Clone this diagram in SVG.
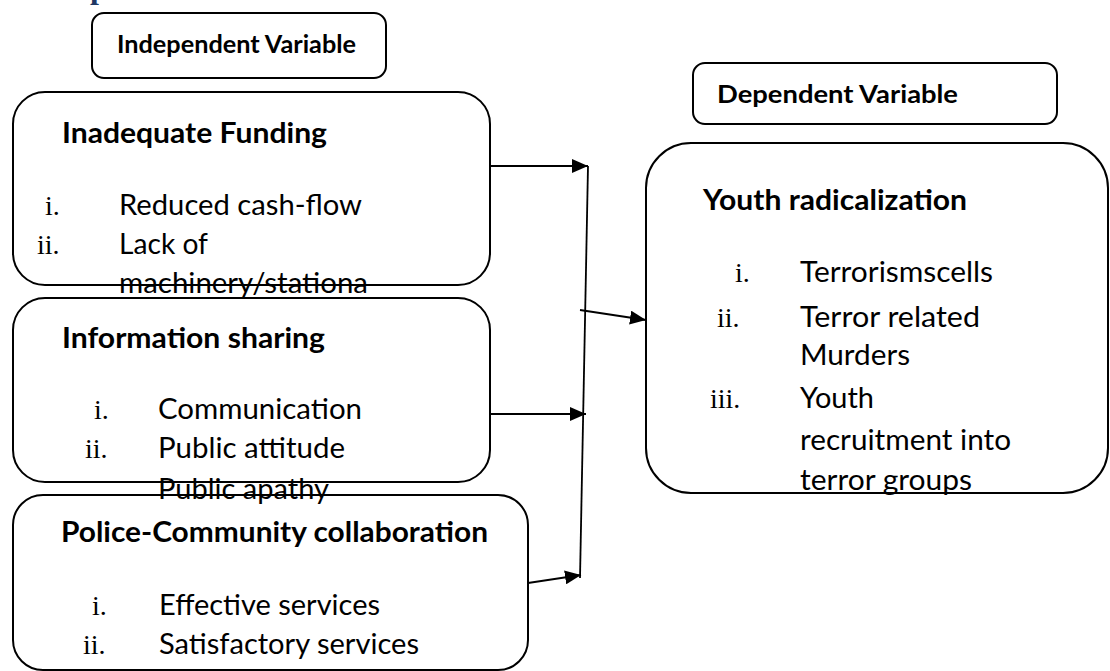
<svg xmlns="http://www.w3.org/2000/svg" width="1110" height="671" viewBox="0 0 1110 671">
<style>
.box{fill:none;stroke:#000;stroke-width:2}
.h{font-family:Lato,"Open Sans",sans-serif;font-weight:700;font-size:24px;fill:#000}
.t{font-family:Lato,"Open Sans",sans-serif;font-weight:700;font-size:28.5px;fill:#000}
.b{font-family:Lato,"Open Sans",sans-serif;font-size:28.5px;fill:#000}
.n{font-family:"Liberation Serif","Times New Roman",serif;font-size:28px;fill:#000}
.c{fill:none;stroke:#000;stroke-width:1.8}
</style>
<defs>
<marker id="ah" markerUnits="userSpaceOnUse" markerWidth="16" markerHeight="14" refX="16" refY="7" orient="auto">
<path d="M0,0 L16,7 L0,14 z" fill="#000"/>
</marker>
</defs>
<rect width="1110" height="671" fill="#fff"/>
<text x="90" y="-2" font-family="Liberation Serif,serif" font-weight="700" font-size="32" fill="#1F3864">p</text>

<g id="independent-variable">
<rect class="box" x="92" y="13" width="294" height="65" rx="12"/>
<text class="h" x="117" y="53" textLength="239" lengthAdjust="spacingAndGlyphs">Independent Variable</text>
</g>

<g id="inadequate-funding">
<rect class="box" x="13" y="92" width="477" height="193" rx="32"/>
<text class="t" x="62" y="143" textLength="265" lengthAdjust="spacingAndGlyphs">Inadequate Funding</text>
<text class="n" x="45" y="215">i.</text>
<text class="b" x="119" y="215" textLength="243" lengthAdjust="spacingAndGlyphs">Reduced cash-flow</text>
<text class="n" x="37" y="254">ii.</text>
<text class="b" x="119" y="254" textLength="89" lengthAdjust="spacingAndGlyphs">Lack of</text>
<text class="b" x="119" y="293" textLength="249" lengthAdjust="spacingAndGlyphs">machinery/stationa</text>
</g>

<g id="information-sharing">
<rect class="box" x="13" y="298" width="477" height="184" rx="32"/>
<text class="t" x="62" y="348" textLength="263" lengthAdjust="spacingAndGlyphs">Information sharing</text>
<text class="n" x="94" y="419">i.</text>
<text class="b" x="158" y="419" textLength="204" lengthAdjust="spacingAndGlyphs">Communication</text>
<text class="n" x="85" y="458">ii.</text>
<text class="b" x="158" y="458" textLength="187" lengthAdjust="spacingAndGlyphs">Public attitude</text>
<text class="b" x="158" y="499" textLength="171" lengthAdjust="spacingAndGlyphs">Public apathy</text>
</g>

<g id="police-community-collaboration">
<rect class="box" x="13" y="495" width="515" height="175" rx="30"/>
<text class="t" x="61" y="542" textLength="427" lengthAdjust="spacingAndGlyphs">Police-Community collaboration</text>
<text class="n" x="92" y="615">i.</text>
<text class="b" x="159" y="615" textLength="221" lengthAdjust="spacingAndGlyphs">Effective services</text>
<text class="n" x="83" y="654">ii.</text>
<text class="b" x="159" y="654" textLength="260" lengthAdjust="spacingAndGlyphs">Satisfactory services</text>
</g>

<g id="dependent-variable">
<rect class="box" x="693" y="63" width="364" height="61" rx="12"/>
<text class="h" x="717" y="103" textLength="241" lengthAdjust="spacingAndGlyphs">Dependent Variable</text>
</g>

<g id="youth-radicalization">
<rect class="box" x="646" y="143" width="462" height="350" rx="45"/>
<text class="t" x="703" y="210" textLength="264" lengthAdjust="spacingAndGlyphs">Youth radicalization</text>
<text class="n" x="735" y="282">i.</text>
<text class="b" x="800" y="282" textLength="193" lengthAdjust="spacingAndGlyphs">Terrorismscells</text>
<text class="n" x="717" y="327">ii.</text>
<text class="b" x="800" y="327" textLength="180" lengthAdjust="spacingAndGlyphs">Terror related</text>
<text class="b" x="800" y="365" textLength="110" lengthAdjust="spacingAndGlyphs">Murders</text>
<text class="n" x="710" y="408">iii.</text>
<text class="b" x="800" y="408" textLength="74" lengthAdjust="spacingAndGlyphs">Youth</text>
<text class="b" x="800" y="450" textLength="211" lengthAdjust="spacingAndGlyphs">recruitment into</text>
<text class="b" x="800" y="490" textLength="172" lengthAdjust="spacingAndGlyphs">terror groups</text>
</g>

<g id="connectors">
<line class="c" x1="490" y1="166" x2="588" y2="166" marker-end="url(#ah)"/>
<line class="c" x1="588" y1="166" x2="580" y2="578"/>
<line class="c" x1="580" y1="310" x2="646" y2="320" marker-end="url(#ah)"/>
<line class="c" x1="490" y1="414" x2="586" y2="414" marker-end="url(#ah)"/>
<line class="c" x1="528" y1="583" x2="581" y2="575" marker-end="url(#ah)"/>
</g>
</svg>
